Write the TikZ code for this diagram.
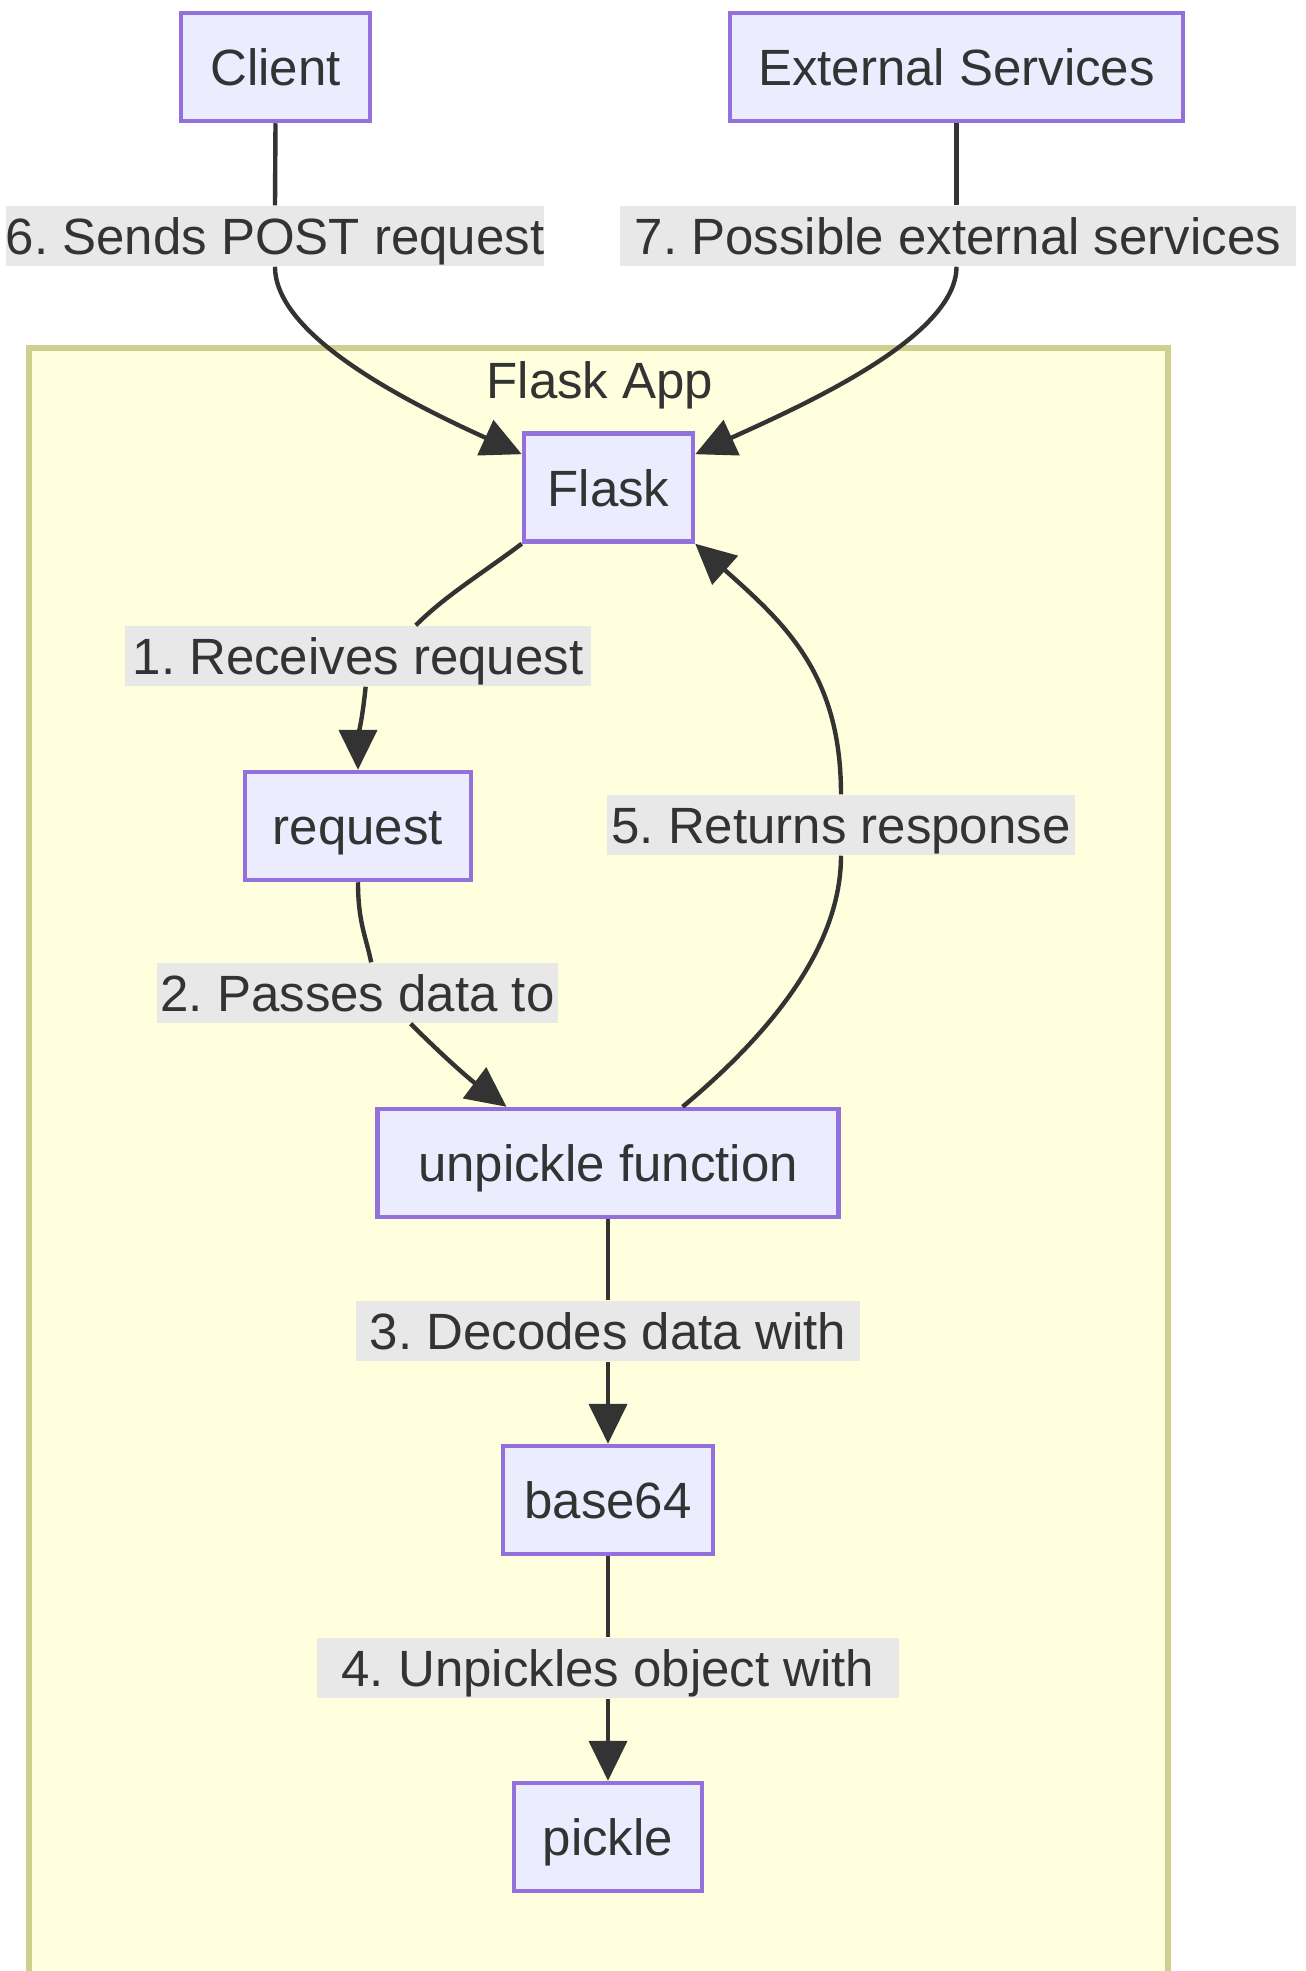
\documentclass[tikz,border=0pt]{standalone}
\usepackage{fontspec}
\setmainfont{Liberation Sans}
\usetikzlibrary{arrows.meta}
\frenchspacing

\definecolor{boxfill}{HTML}{ECECFF}
\definecolor{boxline}{HTML}{9370DB}
\definecolor{appfill}{HTML}{FFFFDE}
\definecolor{appline}{HTML}{D0D08E}
\definecolor{lblfill}{HTML}{E8E8E8}
\definecolor{ink}{HTML}{333333}

\begin{document}
\begin{tikzpicture}[x=0.01cm, y=-0.01cm,
    txt/.style={font=\fontsize{14.5}{17}\selectfont, text=ink},
    box/.style={txt, draw=boxline, fill=boxfill, line width=1.25pt, minimum height=1.08cm,
                inner sep=0pt, text height=0.38cm, text depth=0.01cm},
    lbl/.style={txt, fill=lblfill, minimum height=0.6cm, inner sep=0pt,
                text height=0.38cm, text depth=0.01cm},
    wirehead/.style={-{Triangle[length=0.4cm, width=0.38cm]}}]
    \clip (0, 0) rectangle (1306, 1971); % bounding box

    % Flask App frame, open at the bottom
    \filldraw [fill=appfill, draw=appline, line width=1.55pt] (29, 348) rectangle (1168, 2050);
    \node at (600, 398) [txt, anchor=base] (apptitle) {Flask App};

    % outside the app
    \node at (275.5,   67) [box, minimum width=1.89cm] (client)   {Client};
    \node at (956.5,   67) [box, minimum width=4.53cm] (external) {External Services};

    % inside the app
    \node at (608.5,  487.5) [box, minimum width=1.69cm] (flask)    {Flask};
    \node at (358,    826)   [box, minimum width=2.26cm] (request)  {request};
    \node at (608,   1163)   [box, minimum width=4.61cm] (unpickle) {unpickle function};
    \node at (608,   1500)   [box, minimum width=2.10cm] (base64)   {base64};
    \node at (608,   1837)   [box, minimum width=1.88cm] (pickle)   {pickle};

    % step labels
    \node at (275,    236) [lbl, minimum width=5.34cm] (sends)     {6. Sends POST request};
    \node at (958,    236) [lbl, minimum width=6.76cm] (possible)  {7. Possible external services};
    \node at (358,    656) [lbl, minimum width=4.65cm] (receives)  {1. Receives request};
    \node at (357.5,  993) [lbl, minimum width=4.01cm] (passes)    {2. Passes data to};
    \node at (608,   1331) [lbl, minimum width=5.04cm] (decodes)   {3. Decodes data with};
    \node at (608,   1668) [lbl, minimum width=5.81cm] (unpickles) {4. Unpickles object with};
    \node at (841,    825) [lbl, minimum width=4.67cm] (returns)   {5. Returns response};

    % connectors
    \begin{scope}[ink, line width=1.25pt]
        % 6 and 7: into Flask
        \draw (client.south) -- (sends.north);
        \draw [wirehead] (sends.south) .. controls +(0, 70) and +(-110, -50) .. (flask.159);
        \draw (external.south) -- (external.south |- possible.north);
        \draw [wirehead] (external.south |- possible.south) .. controls +(0, 70) and +(110, -50) .. (flask.21);

        % 1: Flask to request
        \draw (flask.south west) .. controls +(-40, 30) and +(30, -30) .. (receives.28);
        \draw [wirehead] (receives.-76) .. controls +(-3, 30) and +(0, -30) .. (request.north);

        % 2: request to unpickle function
        \draw (request.south) .. controls +(0, 40) and +(-5, -25) .. (passes.66);
        \draw [wirehead] (passes.-30) .. controls +(30, 30) and +(-40, -30) .. (unpickle.151);

        % 3 and 4: straight down
        \draw (unpickle.south) -- (decodes.north);
        \draw [wirehead] (decodes.south) -- (base64.north);
        \draw (base64.south) -- (unpickles.north);
        \draw [wirehead] (unpickles.south) -- (pickle.north);

        % 5: back up to Flask
        \draw (unpickle.37) .. controls +(90, -75) and +(0, 90) .. (returns.south);
        \draw [wirehead] (returns.north) .. controls +(0, -120) and +(90, 80) .. (flask.south east);
    \end{scope}
\end{tikzpicture}
\end{document}
